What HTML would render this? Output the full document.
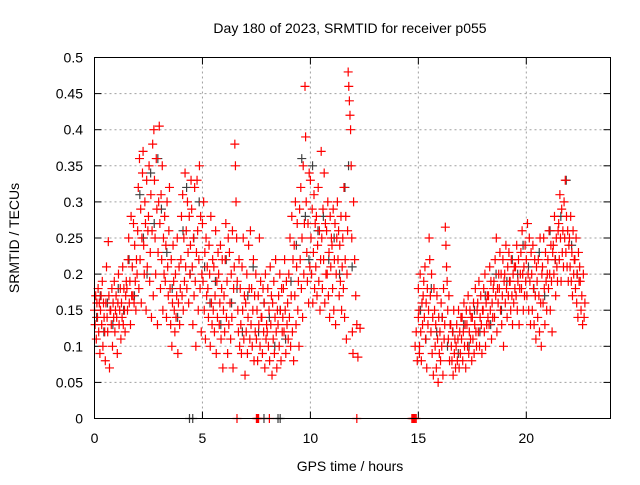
<!DOCTYPE html>
<html><head><meta charset="utf-8"><style>
body{margin:0;background:#fff;}
svg text{font-family:"Liberation Sans",sans-serif;font-size:14px;fill:#000;}
</style></head><body>
<svg id="chart" width="640" height="480" xmlns="http://www.w3.org/2000/svg">
<rect width="640" height="480" fill="#fff"/>
<g id="grid"></g>
<g id="ticks"></g>
<g id="gray"></g>
<g id="red"></g>
<rect x="94.5" y="57.5" width="516" height="361" fill="none" stroke="#000" stroke-width="1"/>
<text x="350" y="33" text-anchor="middle">Day 180 of 2023, SRMTID for receiver p055</text>
<text x="350" y="471" text-anchor="middle">GPS time / hours</text>
<text transform="translate(19,238) rotate(-90)" text-anchor="middle">SRMTID / TECUs</text>
</svg>
<script>
const xTicks=[0,5,10,15,20];
const yTicks=[0,0.05,0.1,0.15,0.2,0.25,0.3,0.35,0.4,0.45,0.5];
const yTickLabels=["0","0.05","0.1","0.15","0.2","0.25","0.3","0.35","0.4","0.45","0.5"];
const binWidth=0.25;
const redBins=[
[0.00,[.15,.13,.17,.11,.16,.14,.18,.12,.16]],
[0.25,[.09,.15,.17,.13,.19,.10,.16,.14,.12]],
[0.50,[.08,.16,.21,.14,.12,.245,.17,.07,.15]],
[0.75,[.15,.13,.18,.10,.16,.14,.19,.12,.15]],
[1.00,[.17,.14,.09,.16,.20,.13,.15,.18,.11]],
[1.25,[.16,.14,.21,.13,.18,.15,.12,.17,.19]],
[1.50,[.18,.15,.22,.25,.16,.19,.13,.28,.17]],
[1.75,[.21,.17,.27,.16,.24,.19,.15,.22,.20]],
[2.00,[.26,.32,.18,.36,.22,.29,.16,.25,.34]],
[2.25,[.37,.24,.20,.30,.27,.15,.33,.21,.26]],
[2.50,[.28,.35,.19,.23,.31,.14,.26,.38,.17]],
[2.75,[.40,.33,.25,.20,.36,.29,.13,.23,.30]],
[3.00,[.405,.27,.18,.31,.22,.35,.15,.25,.20]],
[3.25,[.28,.19,.24,.14,.30,.21,.17,.26,.32]],
[3.50,[.18,.13,.22,.10,.16,.24,.19,.15,.12]],
[3.75,[.20,.14,.17,.25,.09,.16,.21,.13,.18]],
[4.00,[.22,.28,.17,.31,.15,.25,.19,.34,.21]],
[4.25,[.26,.18,.30,.23,.16,.28,.20,.24,.33]],
[4.50,[.29,.21,.13,.25,.17,.32,.19,.10,.23]],
[4.75,[.33,.26,.15,.22,.35,.18,.28,.12,.20]],
[5.00,[.27,.19,.30,.15,.23,.11,.25,.17,.21]],
[5.25,[.18,.14,.24,.20,.10,.28,.16,.13,.22]],
[5.50,[.15,.21,.12,.17,.26,.09,.19,.14,.23]],
[5.75,[.20,.13,.16,.24,.11,.18,.22,.07,.15]],
[6.00,[.17,.12,.22,.27,.14,.19,.09,.25,.13]],
[6.25,[.23,.16,.11,.20,.14,.26,.07,.18,.21]],
[6.50,[.38,.35,.30,.25,.19,.15,.12,.22,.10]],
[6.75,[.18,.13,.09,.21,.15,.25,.11,.17,.06]],
[7.00,[.16,.12,.20,.09,.14,.24,.18,.11,.26]],
[7.25,[.13,.18,.10,.15,.22,.08,.17,.12,.20]],
[7.50,[.11,.15,.08,.17,.13,.25,.10,.19,.14]],
[7.75,[.14,.09,.18,.12,.16,.07,.20,.11,.13]],
[8.00,[.12,.18,.10,.15,.08,.21,.13,.17,.06]],
[8.25,[.16,.11,.19,.09,.14,.22,.12,.07,.15]],
[8.50,[.13,.17,.10,.20,.15,.08,.18,.12,.14]],
[8.75,[.18,.12,.22,.15,.09,.19,.13,.16,.11]],
[9.00,[.20,.14,.25,.10,.17,.28,.12,.22,.08]],
[9.25,[.24,.17,.30,.13,.21,.27,.15,.19,.10]],
[9.50,[.29,.22,.32,.18,.25,.14,.35,.20,.27]],
[9.75,[.46,.39,.30,.23,.19,.27,.16,.34,.21]],
[10.00,[.33,.25,.20,.29,.16,.23,.31,.18,.27]],
[10.25,[.21,.28,.17,.24,.32,.19,.26,.15,.22]],
[10.50,[.37,.25,.18,.29,.22,.34,.16,.27,.20]],
[10.75,[.26,.20,.30,.17,.23,.14,.28,.21,.25]],
[11.00,[.24,.18,.29,.15,.22,.27,.13,.20,.25]],
[11.25,[.30,.22,.26,.17,.24,.19,.28,.15,.21]],
[11.50,[.25,.18,.32,.14,.22,.28,.11,.20,.26]],
[11.75,[.48,.46,.44,.42,.40,.35,.25,.12,.09]],
[12.00,[.30,.22,.17,.13,.085]],
[12.30,[.125]],
[14.85,[.10,.12,.08,.14,.09]],
[15.00,[.18,.15,.10,.20,.12,.08,.16,.13,.17]],
[15.25,[.19,.14,.21,.11,.16,.07,.18,.13,.15]],
[15.50,[.25,.22,.17,.12,.20,.09,.14,.06,.18]],
[15.75,[.15,.10,.13,.07,.17,.11,.05,.14,.09]],
[16.00,[.12,.08,.16,.10,.14,.06,.18,.11,.13]],
[16.25,[.265,.24,.21,.19,.15,.11,.17,.08,.13]],
[16.50,[.13,.10,.08,.12,.06,.15,.09,.11,.07]],
[16.75,[.10,.13,.08,.11,.15,.07,.12,.09,.14]],
[17.00,[.11,.14,.08,.12,.16,.10,.13,.07,.15]],
[17.25,[.13,.10,.17,.09,.12,.15,.11,.14,.08]],
[17.50,[.14,.11,.16,.09,.13,.18,.12,.10,.15]],
[17.75,[.16,.12,.19,.10,.14,.17,.13,.09,.15]],
[18.00,[.15,.18,.12,.20,.10,.16,.13,.17,.14]],
[18.25,[.17,.13,.21,.15,.19,.11,.16,.14,.18]],
[18.50,[.19,.14,.22,.17,.25,.12,.18,.16,.20]],
[18.75,[.18,.23,.15,.20,.13,.17,.22,.10,.19]],
[19.00,[.20,.16,.24,.18,.14,.21,.17,.23,.19]],
[19.25,[.19,.15,.22,.17,.13,.20,.16,.21,.18]],
[19.50,[.21,.17,.24,.15,.19,.22,.13,.18,.20]],
[19.75,[.23,.18,.26,.20,.15,.21,.17,.24,.19]],
[20.00,[.22,.17,.27,.20,.15,.25,.19,.13,.23]],
[20.25,[.20,.15,.24,.18,.13,.22,.17,.11,.21]],
[20.50,[.19,.14,.22,.17,.12,.25,.16,.10,.20]],
[20.75,[.21,.16,.25,.18,.13,.23,.19,.15,.20]],
[21.00,[.22,.18,.26,.20,.15,.24,.19,.12,.23]],
[21.25,[.24,.20,.28,.22,.17,.25,.21,.19,.26]],
[21.50,[.27,.22,.31,.25,.19,.29,.23,.26,.21]],
[21.75,[.30,.25,.33,.23,.28,.21,.26,.19,.24]],
[22.00,[.25,.21,.28,.19,.23,.17,.26,.20,.22]],
[22.25,[.22,.18,.25,.16,.20,.14,.23,.19,.21]],
[22.50,[.19,.15,.17,.13,.20,.14,.16]]
];
const grayBinWidth=0.5;
const grayBins=[
[0,[.14,.17,.12]],[0.5,[.16,.13]],[1,[.18,.15]],[1.5,[.22,.17]],[2,[.31,.25,.20]],[2.5,[.34,.27,.36]],
[3,[.29,.23]],[3.5,[.18,.14]],[4,[.26,.32,.20]],[4.5,[.25,.30]],[5,[.21,.16]],[5.5,[.19,.13]],
[6,[.22,.16]],[6.5,[.18,.12]],[7,[.17,.21]],[7.5,[.12,.16]],[8,[.14,.10]],[8.5,[.15,.11]],
[9,[.19,.24]],[9.5,[.36,.28,.22]],[10,[.35,.26]],[10.5,[.28,.22]],[11,[.25,.20]],[11.5,[.32,.35,.21]],
[15,[.15,.11]],[15.5,[.18,.12]],[16,[.14,.10]],[16.5,[.12,.09]],[17,[.13,.10]],[17.5,[.15,.12]],
[18,[.17,.13]],[18.5,[.20,.15]],[19,[.19,.22]],[19.5,[.20,.24]],[20,[.21,.18]],[20.5,[.23,.17]],
[21,[.26,.22]],[21.5,[.28,.33]],[22,[.24,.20]]
];
const redZeroTimes=[6.6,7.5,7.55,7.6,8.1,12.15,14.7,14.75,14.8,14.85,14.9];
const grayZeroTimes=[4.4,4.55,7.85,8.5,8.6];

const X0=94.5,X1=610.5,Y0=418.5,Y1=57.5,XMAX=23.9,YMAX=0.5,HALF=4.5;
function xs(t){return X0+(X1-X0)*t/XMAX;}
function ys(v){return Y0-(Y0-Y1)*v/YMAX;}
const NS="http://www.w3.org/2000/svg";
function mk(tag,attrs,parent){const e=document.createElementNS(NS,tag);for(const k in attrs)e.setAttribute(k,attrs[k]);parent.appendChild(e);return e;}
const grid=document.getElementById('grid'),ticks=document.getElementById('ticks'),svg=document.getElementById('chart');
yTicks.forEach((v,i)=>{
  const y=ys(v);
  if(i>0&&i<yTicks.length-1){
    const g=mk('line',{x1:X0,x2:X1,y1:y,y2:y,stroke:'#a0a0a0','stroke-dasharray':'2,3'},grid);
    
    
  }
  const t1=mk('line',{x1:X0,x2:X0+7,y1:y,y2:y,stroke:'#000'},ticks);
  
  
  mk('line',{x1:X1,x2:X1-7,y1:y,y2:y,stroke:'#000'},ticks);
  const tx=mk('text',{x:83,y:y+5,'text-anchor':'end'},svg);
  tx.textContent=yTickLabels[i];
  
  
});
xTicks.forEach(t=>{
  const x=xs(t);
  if(t>0){
    const g=mk('line',{x1:x,x2:x,y1:Y0,y2:Y1,stroke:'#a0a0a0','stroke-dasharray':'2,3'},grid);
    
    
  }
  const t1=mk('line',{x1:x,x2:x,y1:Y0,y2:Y0-7,stroke:'#000'},ticks);
  
  
  mk('line',{x1:x,x2:x,y1:Y1,y2:Y1+7,stroke:'#000'},ticks);
  const tx=mk('text',{x:x,y:443,'text-anchor':'middle'},svg);
  tx.textContent=String(t);
  
  
});
function plus(g,t,v,col){
  const x=xs(t),y=ys(v);
  const p=mk('path',{d:`M${x-HALF},${y}H${x+HALF}M${x},${y-HALF}V${y+HALF}`,stroke:col,'stroke-width':1.2,fill:'none'},g);
  
  
}
const gG=document.getElementById('gray'),gR=document.getElementById('red');
grayBins.forEach(([t0,vals])=>vals.forEach((v,i)=>plus(gG,t0+i*grayBinWidth/vals.length+0.1,v,'#404040')));
grayZeroTimes.forEach(t=>plus(gG,t,0,'#404040'));
redBins.forEach(([t0,vals])=>vals.forEach((v,i)=>plus(gR,t0+i*binWidth/vals.length,v,'#ff0000')));
redZeroTimes.forEach(t=>plus(gR,t,0,'#ff0000'));
</script>
</body></html>
